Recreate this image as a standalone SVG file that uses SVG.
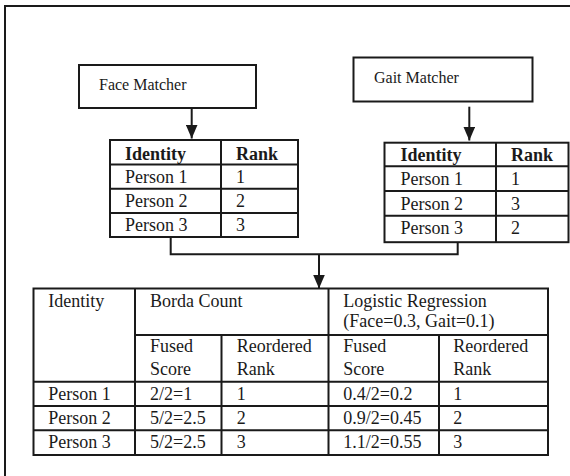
<svg xmlns="http://www.w3.org/2000/svg" width="570" height="476" viewBox="0 0 570 476">
<defs>
<style>
.ln{stroke:#1a1a1a;stroke-width:2;fill:none}
.box{stroke:#1a1a1a;stroke-width:2;fill:#fff}
.t{font-family:"Liberation Serif","Times New Roman",serif;font-size:18px;fill:#1a1a1a}
.b{font-weight:bold}
.m{font-size:16px}
</style>
<marker id="ah" viewBox="0 0 14 12" refX="14" refY="6" markerWidth="14" markerHeight="12" orient="auto" markerUnits="userSpaceOnUse">
<path d="M0,0 L14,6 L0,12 z" fill="#1a1a1a"/>
</marker>
</defs>
<rect width="570" height="476" fill="#fff"/>
<rect id="frame" x="5" y="6" width="620" height="520" class="ln"/>

<g id="face-matcher">
<rect x="79" y="65" width="177" height="43" class="box"/>
<text x="99" y="90" class="t m">Face Matcher</text>
</g>

<g id="gait-matcher">
<rect x="353.5" y="57.5" width="179" height="44" class="box"/>
<text x="374" y="82.5" class="t m">Gait Matcher</text>
</g>

<g id="face-table">
<rect x="110" y="140" width="188" height="97" class="box"/>
<path d="M221,140 V237 M110,164.5 H298 M110,188.8 H298 M110,213 H298" class="ln"/>
<text x="125" y="159.5" class="t b">Identity</text>
<text x="236" y="159.5" class="t b">Rank</text>
<text x="125" y="183" class="t">Person 1</text>
<text x="236" y="183" class="t">1</text>
<text x="125" y="207.3" class="t">Person 2</text>
<text x="236" y="207.3" class="t">2</text>
<text x="125" y="231.3" class="t">Person 3</text>
<text x="236" y="231.3" class="t">3</text>
</g>

<g id="gait-table">
<rect x="384.5" y="142.7" width="184" height="99.5" class="box"/>
<path d="M496,142.7 V242.2 M384.5,166.3 H568.5 M384.5,191 H568.5 M384.5,215.7 H568.5" class="ln"/>
<text x="400.5" y="161" class="t b">Identity</text>
<text x="511" y="161" class="t b">Rank</text>
<text x="400.5" y="185.3" class="t">Person 1</text>
<text x="511" y="185.3" class="t">1</text>
<text x="400.5" y="209.5" class="t">Person 2</text>
<text x="511" y="209.5" class="t">3</text>
<text x="400.5" y="234" class="t">Person 3</text>
<text x="511" y="234" class="t">2</text>
</g>

<g id="fusion-table">
<rect x="33.5" y="288.5" width="514.5" height="166.5" class="box"/>
<path d="M135,288.5 V455 M328.5,288.5 V455 M221.5,335 V455 M439,335 V455 M135,335 H548 M33.5,381.7 H548 M33.5,406 H548 M33.5,430.3 H548" class="ln"/>
<text x="48.3" y="306.7" class="t">Identity</text>
<text x="150" y="306.7" class="t">Borda Count</text>
<text x="343.3" y="306.7" class="t">Logistic Regression</text>
<text x="343.3" y="327" class="t">(Face=0.3, Gait=0.1)</text>
<text x="150" y="352" class="t">Fused</text>
<text x="150" y="374.5" class="t">Score</text>
<text x="236.7" y="352" class="t">Reordered</text>
<text x="236.7" y="374.5" class="t">Rank</text>
<text x="343.3" y="352" class="t">Fused</text>
<text x="343.3" y="374.5" class="t">Score</text>
<text x="453.3" y="352" class="t">Reordered</text>
<text x="453.3" y="374.5" class="t">Rank</text>
<text x="48.3" y="400" class="t">Person 1</text>
<text x="150" y="400" class="t">2/2=1</text>
<text x="236.7" y="400" class="t">1</text>
<text x="343.3" y="400" class="t">0.4/2=0.2</text>
<text x="453.3" y="400" class="t">1</text>
<text x="48.3" y="423.5" class="t">Person 2</text>
<text x="150" y="423.5" class="t">5/2=2.5</text>
<text x="236.7" y="423.5" class="t">2</text>
<text x="343.3" y="423.5" class="t">0.9/2=0.45</text>
<text x="453.3" y="423.5" class="t">2</text>
<text x="48.3" y="447.5" class="t">Person 3</text>
<text x="150" y="447.5" class="t">5/2=2.5</text>
<text x="236.7" y="447.5" class="t">3</text>
<text x="343.3" y="447.5" class="t">1.1/2=0.55</text>
<text x="453.3" y="447.5" class="t">3</text>
</g>

<g id="connectors">
<path d="M191.7,108 V138.5" class="ln" marker-end="url(#ah)"/>
<path d="M469.3,106.7 V140.5" class="ln" marker-end="url(#ah)"/>
<path d="M170.7,237 V254.3 H457.7 V242.2" class="ln"/>
<path d="M319,254.3 V288.5" class="ln" marker-end="url(#ah)"/>
</g>
</svg>
